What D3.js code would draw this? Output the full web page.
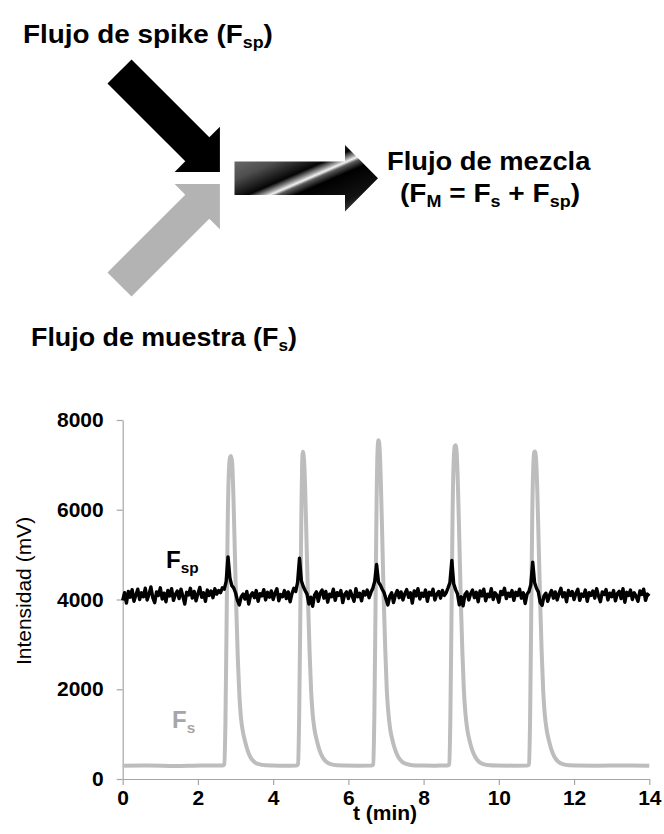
<!DOCTYPE html>
<html>
<head>
<meta charset="utf-8">
<script src="https://cdn.jsdelivr.net/npm/d3@7"></script>
<style>
  body { margin: 0; background: #fff; }
  svg { display: block; }
  text { font-family: "Liberation Sans", Arial, sans-serif; }
</style>
</head>
<body>
<svg id="fig" width="664" height="834"></svg>
<script>
// ---------- axis settings ----------
const tDomain = [0, 14];
const yDomain = [0, 8000];
const xTicks = [0, 2, 4, 6, 8, 10, 12, 14];
const yTicks = [0, 2000, 4000, 6000, 8000];

// ---------- sample flow signal F_s: time (min) / intensity (mV) ----------
const fsTime = [
  0, 0.7, 1.4, 2.1, 2.66,
  2.70, 2.73, 2.76, 2.79, 2.82, 2.85, 2.88, 2.91, 2.94, 2.98, 3.02, 3.06, 3.10, 3.14, 3.19, 3.25, 3.32, 3.40, 3.50, 3.62, 3.80, 4.00, 4.30, 4.62,
  4.66, 4.69, 4.72, 4.75, 4.77, 4.79, 4.82, 4.85, 4.89, 4.93, 4.97, 5.01, 5.05, 5.10, 5.16, 5.23, 5.31, 5.41, 5.53, 5.70, 5.90, 6.25, 6.62,
  6.66, 6.69, 6.72, 6.75, 6.78, 6.80, 6.83, 6.86, 6.90, 6.94, 6.98, 7.02, 7.06, 7.11, 7.17, 7.24, 7.32, 7.42, 7.54, 7.70, 7.90, 8.30, 8.64,
  8.68, 8.71, 8.74, 8.77, 8.80, 8.83, 8.85, 8.88, 8.91, 8.95, 8.99, 9.03, 9.07, 9.11, 9.16, 9.22, 9.29, 9.37, 9.47, 9.59, 9.76, 9.96, 10.40, 10.76,
  10.80, 10.83, 10.86, 10.89, 10.92, 10.94, 10.96, 10.99, 11.02, 11.06, 11.10, 11.14, 11.18, 11.22, 11.27, 11.33, 11.40, 11.48, 11.58, 11.70, 11.87, 12.07,
  12.6, 13.3, 14
];
const fsValue = [
  295, 300, 292, 302, 300,
  330, 1200, 3300, 5600, 6800, 7150, 7200, 7050, 6400, 5100, 3800, 2700, 1900, 1400, 1080, 850, 640, 480, 380, 330, 305, 300, 296, 300,
  330, 1300, 3500, 5900, 7000, 7290, 7120, 6500, 5200, 3900, 2800, 1950, 1450, 1100, 860, 650, 490, 385, 330, 305, 300, 297, 300,
  330, 1400, 3700, 6200, 7400, 7550, 7380, 6700, 5400, 4000, 2900, 2000, 1500, 1120, 870, 660, 500, 390, 335, 305, 300, 298, 300,
  330, 1300, 3500, 5900, 7100, 7420, 7440, 7250, 6600, 5300, 3950, 2850, 1980, 1480, 1110, 860, 650, 495, 385, 330, 305, 300, 297, 300,
  330, 1300, 3600, 6000, 7050, 7280, 7300, 7120, 6500, 5200, 3900, 2800, 1950, 1450, 1100, 860, 650, 490, 385, 330, 305, 300,
  296, 302, 298
];

// ---------- spike flow signal F_sp, one reading every 0.05 min ----------
const fspStep = 0.05;
const fspValue = [
  3980, 4150, 3920, 4180, 4050, 4220, 3960, 4100, 4230, 4000,
  4150, 4060, 4250, 3990, 4120, 4280, 4040, 3930, 4170, 4090,
  4260, 4010, 4140, 3950, 4200, 4080, 4240, 3980, 4110, 4190,
  4020, 4230, 4070, 3900, 4160, 4100, 4250, 4030, 4180, 3970,
  4130, 4270, 4050, 4150, 3960, 4210, 4090, 4190, 4040, 4240,
  4120, 4200, 4150, 4260, 4230, 4400, 4950, 4480, 4310, 4260,
  4150, 3980, 3880, 4060, 4120, 4010, 4180, 3900, 4090, 4150,
  4040, 4200, 3960, 4130, 4080, 4220, 3990, 4160, 4050, 4190,
  4000, 4140, 4240, 3970, 4110, 4060, 4200, 4020, 4170, 3950,
  4130, 4250, 4180, 4380, 4920, 4420, 4290, 4200, 4120, 3900,
  4050, 3850, 4100, 4170, 3960, 4140, 4210, 4030, 4180, 3940,
  4120, 4060, 4230, 3980, 4150, 4090, 4200, 3930, 4110, 4170,
  4020, 4190, 4080, 3960, 4240, 4060, 4140, 3970, 4180, 4100,
  4210, 4040, 4160, 4250, 4400, 4780, 4390, 4320, 4230, 4150,
  4010, 3880, 4070, 4150, 3930, 4100, 4200, 4040, 4170, 3990,
  4130, 4220, 4050, 4150, 3920, 4190, 4080, 4240, 4010, 4140,
  4070, 4210, 3960, 4160, 4100, 4230, 3990, 4120, 4180, 4030,
  4200, 4090, 4150, 4260, 4380, 4870, 4350, 4220, 4130, 3880,
  4060, 3860, 4110, 4170, 3990, 4130, 4210, 4040, 4160, 3950,
  4190, 4080, 4230, 3970, 4120, 4060, 4240, 4000, 4150, 4090,
  3940, 4180, 4110, 4250, 4020, 4140, 4070, 4200, 3980, 4160,
  4090, 4230, 4030, 4150, 3910, 4120, 4180, 4330, 4830, 4380,
  4250, 4170, 3930, 3870, 4080, 4140, 3960, 4100, 4200, 4030,
  4170, 3990, 4130, 4250, 4060, 4150, 3950, 4200, 4090, 4180,
  4000, 4140, 4230, 3980, 4120, 4070, 4210, 3960, 4150, 4090,
  4190, 4030, 4240, 4080, 3950, 4170, 4110, 4220, 3990, 4140,
  4060, 4200, 3970, 4130, 4180, 4020, 4240, 3940, 4160, 4090,
  4210, 4000, 4150, 4070, 3960, 4190, 4110, 4230, 3980, 4120, 4080
];

// ---------- diagram labels ----------
const labelSpike = ["Flujo de spike (F", "sp", ")"];
const labelSample = ["Flujo de muestra (F", "s", ")"];
const labelMix1 = "Flujo de mezcla";
const labelMix2 = ["(F", "M", " = F", "s", " + F", "sp", ")"];

const svg = d3.select("#fig");

// ---------- block arrows of the flow diagram ----------
// arrow outline along +x, tail at origin
function arrowPath(len, shaftHalf, headHalf, headLen) {
  const b = len - headLen;
  return d3.line()([
    [0, -shaftHalf], [b, -shaftHalf], [b, -headHalf], [len, 0],
    [b, headHalf], [b, shaftHalf], [0, shaftHalf]
  ]) + "Z";
}

// shaded fill of the mixed-flow arrow: diagonal bands with a bright streak
const defs = svg.append("defs");
const grad = defs.append("linearGradient")
  .attr("id", "mixGrad")
  .attr("gradientUnits", "userSpaceOnUse")
  .attr("x1", 296).attr("y1", 129).attr("x2", 336).attr("y2", 221)
  .attr("gradientTransform", "translate(-234.5,-178.3)");
[
  [0, "#707070"], [0.22, "#4e4e4e"], [0.41, "#050505"], [0.47, "#9a9a9a"],
  [0.5, "#f2f2f2"], [0.53, "#5a5a5a"], [0.6, "#000"], [0.85, "#121212"], [1, "#4a4a4a"]
].forEach(([o, c]) => grad.append("stop").attr("offset", o).attr("stop-color", c));

// spike flow (black), sample flow (grey), mixed flow (shaded)
svg.append("path")
  .attr("d", arrowPath(142, 17, 32, 32))
  .attr("transform", "translate(119.5,71.5) rotate(45)")
  .attr("fill", "#000");
svg.append("path")
  .attr("d", arrowPath(142, 17, 32, 32))
  .attr("transform", "translate(119.5,284.5) rotate(-45)")
  .attr("fill", "#b3b3b3");
svg.append("path")
  .attr("d", arrowPath(143.5, 16.7, 33.3, 33))
  .attr("transform", "translate(234.5,178.3)")
  .attr("fill", "url(#mixGrad)");

// ---------- diagram text ----------
function richText(parts, subIdx, size, fill) {
  const t = svg.append("text").attr("font-size", size).attr("font-weight", "bold").attr("fill", fill);
  let shifted = false;
  parts.forEach((p, i) => {
    const isSub = subIdx.includes(i);
    const ts = t.append("tspan").text(p);
    if (isSub) { ts.attr("font-size", size * 0.64).attr("dy", size * 0.2); shifted = true; }
    else if (shifted) { ts.attr("dy", -size * 0.2); shifted = false; }
  });
  return t;
}
// stretch a text element so its ink spans [x0, x1], sitting on baseline y
function place(t, x0, x1, y) {
  const bb = t.node().getBBox();
  const s = (x1 - x0) / bb.width;
  t.attr("transform", `translate(${x0},${y}) scale(${s},1) translate(${-bb.x},0)`);
}

place(richText(labelSpike, [1], 26, "#000"), 23, 273, 43);
place(richText(labelSample, [1], 25, "#000"), 31, 297, 346);
place(richText([labelMix1], [], 26, "#000"), 387, 591, 170);
place(richText(labelMix2, [1, 3, 5], 26, "#000"), 400, 580, 202);

// ---------- chart ----------
const x = d3.scaleLinear().domain(tDomain).range([122.7, 649.3]);
const y = d3.scaleLinear().domain(yDomain).range([779, 420]);
const axisColor = "#a6a6a6";

const gx = svg.append("g").attr("transform", `translate(0,${y(0)})`)
  .call(d3.axisBottom(x).tickValues(xTicks).tickSize(6).tickSizeOuter(0).tickPadding(5));
const gy = svg.append("g").attr("transform", `translate(${x(0)},0)`)
  .call(d3.axisLeft(y).tickValues(yTicks).tickFormat(d3.format("d")).tickSize(6).tickSizeOuter(0).tickPadding(13));
[gx, gy].forEach(g => {
  g.select(".domain").attr("stroke", axisColor).attr("stroke-width", 1.2);
  g.selectAll(".tick line").attr("stroke", axisColor).attr("stroke-width", 1.2);
  g.selectAll(".tick text").attr("font-size", 21).attr("font-weight", "bold")
    .attr("fill", "#000").attr("font-family", "'Liberation Sans', Arial, sans-serif");
});

// sample signal (grey)
const fsData = fsTime.map((t, i) => [t, fsValue[i]]);
svg.append("path")
  .datum(fsData)
  .attr("fill", "none")
  .attr("stroke", "#bdbdbd")
  .attr("stroke-width", 4)
  .attr("stroke-linejoin", "round")
  .attr("d", d3.line().x(d => x(d[0])).y(d => y(d[1])).curve(d3.curveMonotoneX));

// spike signal (black)
const fspData = fspValue.map((v, i) => [i * fspStep, v]);
svg.append("path")
  .datum(fspData)
  .attr("fill", "none")
  .attr("stroke", "#000")
  .attr("stroke-width", 3.4)
  .attr("stroke-linejoin", "round")
  .attr("d", d3.line().x(d => x(d[0])).y(d => y(d[1])));

// series labels
richText(["F", "sp"], [1], 24, "#000").attr("transform", "translate(166,568)");
richText(["F", "s"], [1], 24, "#a6a6a6").attr("transform", "translate(172,728)");

// axis titles
svg.append("text")
  .attr("x", 385).attr("y", 820)
  .attr("text-anchor", "middle")
  .attr("font-size", 21).attr("font-weight", "bold")
  .text("t (min)");
svg.append("text")
  .attr("transform", "translate(31,591) rotate(-90)")
  .attr("text-anchor", "middle")
  .attr("font-size", 21)
  .text("Intensidad (mV)");
</script>
</body>
</html>
